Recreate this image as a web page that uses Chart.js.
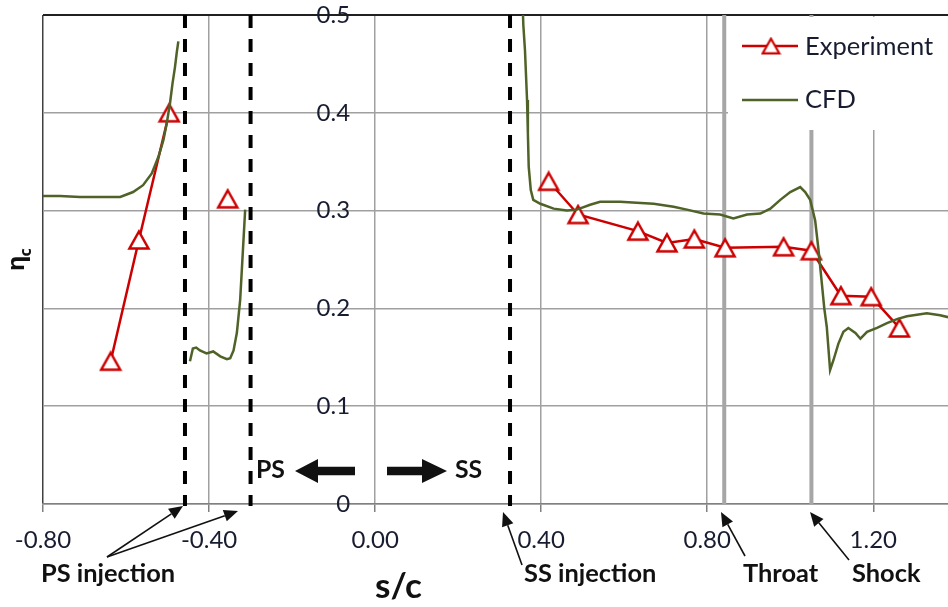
<!DOCTYPE html>
<html><head><meta charset="utf-8">
<script src="https://cdn.jsdelivr.net/npm/chart.js@4.4.1/dist/chart.umd.min.js"></script>
<style>html,body{margin:0;padding:0;background:#fff;overflow:hidden;}#wrap{width:948px;height:607px;}</style>
</head><body><div id="wrap"><canvas id="c" width="948" height="607"></canvas></div>
<script>
// ---- data ----
const xTickValues = [-0.8, -0.4, 0, 0.4, 0.8, 1.2];
const yTickValues = [0, 0.1, 0.2, 0.3, 0.4, 0.5];

const expX = [-0.637, -0.569, -0.496, -0.43, -0.355, 0.0, 0.418, 0.489, 0.633, 0.703, 0.769, 0.843, 0.984, 1.051, 1.122, 1.195, 1.263];
const expY = [0.146, 0.270, 0.400, null, 0.312, null, 0.330, 0.296, 0.279, 0.267, 0.271, 0.262, 0.263, 0.259, 0.213, 0.212, 0.180];

const cfdX = [
  -0.800, -0.759, -0.711, -0.663, -0.614, -0.583, -0.559, -0.538, -0.522, -0.510, -0.502, -0.494, -0.488, -0.482, -0.478, -0.474,
  -0.460,
  -0.446, -0.439, -0.431, -0.422, -0.406, -0.390, -0.373, -0.357, -0.349, -0.341, -0.333, -0.325, -0.319, -0.313,
  0.000,
  0.354, 0.357, 0.361, 0.366, 0.368, 0.370, 0.375, 0.381, 0.398, 0.430, 0.462, 0.486, 0.518, 0.542, 0.590, 0.630, 0.671,
  0.719, 0.751, 0.791, 0.831, 0.863, 0.896, 0.928, 0.952, 0.976, 1.000, 1.024, 1.036, 1.048, 1.060, 1.068, 1.076, 1.082,
  1.088, 1.096, 1.104, 1.116, 1.128, 1.140, 1.157, 1.169, 1.185, 1.209, 1.233, 1.257, 1.281, 1.329, 1.361, 1.381
];
const cfdY = [
  0.315, 0.315, 0.314, 0.314, 0.314, 0.319, 0.326, 0.338, 0.355, 0.372, 0.389, 0.410, 0.430, 0.447, 0.461, 0.473,
  null,
  0.146, 0.159, 0.160, 0.157, 0.154, 0.156, 0.151, 0.148, 0.149, 0.157, 0.175, 0.209, 0.255, 0.301,
  null,
  0.530, 0.490, 0.464, 0.413, 0.379, 0.345, 0.321, 0.311, 0.307, 0.302, 0.300, 0.301, 0.306, 0.309, 0.309, 0.308, 0.307,
  0.304, 0.301, 0.297, 0.296, 0.292, 0.296, 0.297, 0.302, 0.311, 0.319, 0.324, 0.319, 0.311, 0.290, 0.260, 0.226, 0.200,
  0.181, 0.137, 0.147, 0.164, 0.176, 0.180, 0.175, 0.169, 0.176, 0.180, 0.185, 0.189, 0.192, 0.195, 0.193, 0.191
];

const psInjectionX = [-0.458, -0.300];
const ssInjectionX = [0.325];
const throatX = 0.841;
const shockX = 1.051;

// ---- styles ----
const RED = '#CC0000';
const GREEN = '#4F6228';
const TXT = '#181c30';
const GRID = '#a0a0a0';
const DARK = '#404040';
const Y_LABEL_GAP = 25;

function triCanvas(w, h, lw, color) {
  const c = document.createElement('canvas');
  c.width = Math.ceil(w + lw * 2); c.height = Math.ceil(h + lw * 2);
  const g = c.getContext('2d');
  g.lineWidth = lw; g.strokeStyle = color; g.fillStyle = '#fff'; g.lineJoin = 'miter';
  g.beginPath();
  g.moveTo(c.width / 2, lw); g.lineTo(c.width - lw, c.height - lw); g.lineTo(lw, c.height - lw); g.closePath();
  g.fill(); g.stroke();
  return c;
}
const triMain = triCanvas(19, 17, 2.5, RED);
const triLegend = triCanvas(16, 14, 2.2, RED);

function fitSize(ctx, text, targetW, weight, family) {
  ctx.font = weight + ' 100px ' + family;
  return 100 * targetW / ctx.measureText(text).width;
}
function arrow(ctx, x1, y1, x2, y2, headLen, headHalf) {
  const ang = Math.atan2(y2 - y1, x2 - x1);
  const bx = x2 - headLen * Math.cos(ang), by = y2 - headLen * Math.sin(ang);
  ctx.beginPath(); ctx.moveTo(x1, y1); ctx.lineTo(bx, by); ctx.stroke();
  ctx.beginPath();
  ctx.moveTo(x2, y2);
  ctx.lineTo(bx + headHalf * Math.sin(ang), by - headHalf * Math.cos(ang));
  ctx.lineTo(bx - headHalf * Math.sin(ang), by + headHalf * Math.cos(ang));
  ctx.closePath(); ctx.fill();
}
function blockArrow(ctx, xTail, xTip, y, shaftHalf, headLen, headHalf) {
  const d = Math.sign(xTip - xTail);
  const bx = xTip - d * headLen;
  ctx.beginPath();
  ctx.moveTo(xTail, y - shaftHalf); ctx.lineTo(bx, y - shaftHalf); ctx.lineTo(bx, y - headHalf);
  ctx.lineTo(xTip, y); ctx.lineTo(bx, y + headHalf); ctx.lineTo(bx, y + shaftHalf); ctx.lineTo(xTail, y + shaftHalf);
  ctx.closePath(); ctx.fill();
}
const isXTick = v => xTickValues.some(t => Math.abs(t - v) < 1e-9);

const overlay = {
  id: 'overlay',
  beforeDraw(chart) {
    const ys = chart.scales.y;
    if (ys && !ys._gapPatched) {
      const orig = ys.getLabelItems.bind(ys);
      ys.getLabelItems = function (ca) {
        const items = orig(ca);
        if (!items._shifted) {
          items.forEach(it => { it.options.translation[0] -= Y_LABEL_GAP; });
          items._shifted = true;
        }
        return items;
      };
      ys._gapPatched = true;
    }
  },
  beforeDatasetsDraw(chart) {
    const { ctx, chartArea: a, scales: { x } } = chart;
    ctx.save();
    ctx.beginPath(); ctx.rect(a.left, a.top - 1, a.right - a.left, a.bottom - a.top + 3); ctx.clip();
    ctx.strokeStyle = '#A6A6A6'; ctx.lineWidth = 4;
    [throatX, shockX].forEach(v => {
      const px = x.getPixelForValue(v);
      ctx.beginPath(); ctx.moveTo(px, a.top); ctx.lineTo(px, a.bottom); ctx.stroke();
    });
    ctx.strokeStyle = '#000'; ctx.lineWidth = 4; ctx.setLineDash([13, 11]);
    psInjectionX.concat(ssInjectionX).forEach(v => {
      const px = x.getPixelForValue(v);
      ctx.beginPath(); ctx.moveTo(px, a.top); ctx.lineTo(px, a.bottom + 2); ctx.stroke();
    });
    ctx.restore();
  },
  afterDatasetsDraw(chart) {
    const { ctx, chartArea: a } = chart;
    ctx.save();
    const lx = a.right - 220, ly = a.top + 2;
    ctx.fillStyle = '#fff'; ctx.fillRect(lx, ly, 220, 113);
    ctx.lineWidth = 2.5;
    ctx.strokeStyle = RED; ctx.beginPath(); ctx.moveTo(lx + 14, ly + 29); ctx.lineTo(lx + 70, ly + 29); ctx.stroke();
    ctx.drawImage(triLegend, lx + 43 - triLegend.width / 2, ly + 29 - triLegend.height / 2);
    ctx.strokeStyle = GREEN; ctx.beginPath(); ctx.moveTo(lx + 14, ly + 83); ctx.lineTo(lx + 70, ly + 83); ctx.stroke();
    const fs = fitSize(ctx, 'Experiment', 128, 'normal', 'Lato');
    ctx.font = fs.toFixed(1) + 'px Lato'; ctx.fillStyle = TXT; ctx.textBaseline = 'alphabetic'; ctx.textAlign = 'left';
    ctx.fillText('Experiment', lx + 77, ly + 38);
    ctx.fillText('CFD', lx + 77, ly + 91);
    ctx.restore();
  },
  afterDraw(chart) {
    const { ctx } = chart;
    ctx.save();
    ctx.textAlign = 'left'; ctx.textBaseline = 'alphabetic';
    ctx.save();
    ctx.translate(24, 271); ctx.rotate(-Math.PI / 2);
    ctx.fillStyle = '#111';
    ctx.font = 'bold 24px "Noto Sans"';
    ctx.fillText('\u03B7', 0, 0);
    const ew = ctx.measureText('\u03B7').width;
    ctx.font = 'bold 16px "Noto Sans"';
    ctx.fillText('c', ew - 1, 7);
    ctx.restore();
    ctx.fillStyle = '#111';
    let s = fitSize(ctx, 's/c', 47, 'bold', 'Lato');
    ctx.font = 'bold ' + s.toFixed(1) + 'px Lato';
    ctx.fillText('s/c', 375, 598);
    s = fitSize(ctx, 'PS injection', 134, 'bold', 'Lato');
    ctx.font = 'bold ' + s.toFixed(1) + 'px Lato';
    ctx.fillText('PS injection', 41, 582);
    ctx.fillText('SS injection', 524, 582);
    ctx.fillText('Throat', 743, 582);
    ctx.fillText('Shock', 852, 582);
    ctx.strokeStyle = '#111'; ctx.fillStyle = '#111'; ctx.lineWidth = 1.6;
    arrow(ctx, 107, 557, 183, 506, 14, 6);
    arrow(ctx, 107, 557, 238, 511, 14, 6);
    arrow(ctx, 522, 565, 503, 512, 14, 6);
    arrow(ctx, 745, 556, 721, 512, 14, 6);
    arrow(ctx, 849, 560, 810, 512, 14, 6);
    blockArrow(ctx, 355, 295, 471, 4.2, 23, 12);
    blockArrow(ctx, 387, 447, 471, 4.2, 25, 12);
    s = fitSize(ctx, 'PS', 29, 'bold', 'Lato');
    ctx.font = 'bold ' + s.toFixed(1) + 'px Lato';
    ctx.fillText('PS', 256, 478);
    ctx.fillText('SS', 455, 478);
    ctx.restore();
  }
};

const expData = expX.map((v, i) => ({ x: v, y: expY[i] }));
const cfdData = cfdX.map((v, i) => ({ x: v, y: cfdY[i] }));

function makeConfig(pad) {
  return {
    type: 'scatter',
    data: {
      datasets: [
        { label: 'Experiment', data: expData, showLine: true, borderColor: RED, borderWidth: 2.5,
          pointStyle: triMain, pointRadius: 10, pointHoverRadius: 10, spanGaps: false, order: 1, tension: 0 },
        { label: 'CFD', data: cfdData, showLine: true, borderColor: GREEN, borderWidth: 2.5,
          pointRadius: 0, pointHoverRadius: 0, spanGaps: false, order: 0, tension: 0 }
      ]
    },
    options: {
      responsive: false, animation: false,
      layout: { padding: pad, autoPadding: false },
      plugins: { legend: { display: false }, tooltip: { enabled: false } },
      scales: {
        x: {
          type: 'linear', position: 'bottom', min: -0.8, max: 1.38,
          afterBuildTicks: sc => { sc.ticks = xTickValues.map(v => ({ value: v })); },
          afterFit: sc => { sc.height = 103; sc.paddingLeft = 0; sc.paddingRight = 0; },
          grid: {
            color: c => !c.tick || !isXTick(c.tick.value) ? 'rgba(0,0,0,0)' : (c.tick.value === -0.8 ? DARK : GRID),
            lineWidth: 1.5, tickLength: 8,
            tickColor: c => !c.tick || !isXTick(c.tick.value) ? 'rgba(0,0,0,0)' : '#808080'
          },
          border: { display: true, color: '#808080', width: 1.5 },
          ticks: { padding: 14, color: TXT, font: { family: 'Lato', size: 24 },
                   callback: v => isXTick(v) ? Number(v).toFixed(2) : '', maxRotation: 0, autoSkip: false }
        },
        y: {
          type: 'linear', position: { x: 0 }, min: 0, max: 0.5,
          afterBuildTicks: sc => { sc.ticks = yTickValues.map(v => ({ value: v })); },
          afterFit: sc => { sc.paddingTop = 0; sc.paddingBottom = 0; sc.paddingLeft = 0; sc.paddingRight = 0; },
          grid: { color: c => (c.tick && c.tick.value === 0.5) ? '#202020' : GRID, lineWidth: c => (c.tick && c.tick.value === 0.5) ? 2 : 1.5, drawTicks: false },
          border: { display: false },
          ticks: { padding: 8, color: TXT, font: { family: 'Lato', size: 24 }, callback: v => v === 0 ? '0' : Number(v).toFixed(1) }
        }
      }
    },
    plugins: [overlay]
  };
}

const canvas = document.getElementById('c');
const wantArea = { left: 43, top: 15, right: 948, bottom: 504 };
let pad = { left: 43, top: 15, right: 0, bottom: 0 };
let chart = new Chart(canvas, makeConfig(pad));
for (let i = 0; i < 3; i++) {
  const ca = chart.chartArea;
  const dl = wantArea.left - ca.left, dt = wantArea.top - ca.top;
  const dr = ca.right - wantArea.right, db = ca.bottom - wantArea.bottom;
  if (Math.abs(dl) + Math.abs(dt) + Math.abs(dr) + Math.abs(db) < 0.5) break;
  pad = { left: pad.left + dl, top: pad.top + dt, right: pad.right + dr, bottom: pad.bottom + db };
  chart.destroy();
  chart = new Chart(canvas, makeConfig(pad));
}
</script>
</body></html>
